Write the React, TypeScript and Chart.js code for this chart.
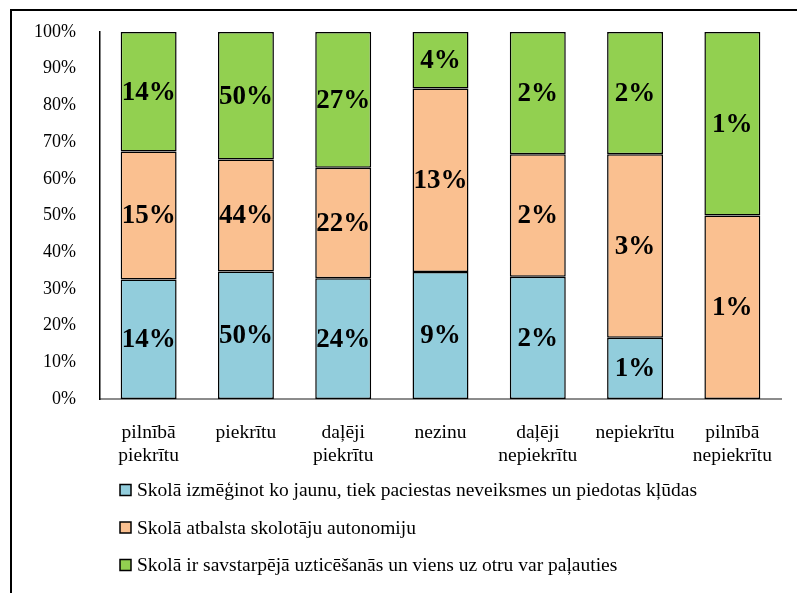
import React, { useEffect, useRef } from "react";
import { Chart, registerables } from "chart.js";

Chart.register(...registerables);

// Answer categories along the x axis (multi-line labels as arrays)
const categories: (string | string[])[] = [
  ["pilnībā", "piekrītu"],
  "piekrītu",
  ["daļēji", "piekrītu"],
  "nezinu",
  ["daļēji", "nepiekrītu"],
  "nepiekrītu",
  ["pilnībā", "nepiekrītu"],
];

// Share of respondents (%) per statement and answer
const innovationValues = [14, 50, 24, 9, 2, 1, 0];
const autonomyValues = [15, 44, 22, 13, 2, 3, 1];
const trustValues = [14, 50, 27, 4, 2, 2, 1];

const seriesNames = [
  "Skolā izmēģinot ko jaunu, tiek paciestas neveiksmes un piedotas kļūdas",
  "Skolā atbalsta skolotāju autonomiju",
  "Skolā ir savstarpējā uzticēšanās un viens uz otru var paļauties",
];
const seriesColors = ["#92CDDC", "#FAC090", "#92D050"];

const yTicks = [0, 10, 20, 30, 40, 50, 60, 70, 80, 90, 100];

const SERIF = "'Liberation Serif', 'Times New Roman', serif";

const allSeries = [innovationValues, autonomyValues, trustValues];
const totals = categories.map((_, i) =>
  allSeries.reduce((s, arr) => s + arr[i], 0)
);
// Normalise each column to 100 %
const shares = allSeries.map((arr) =>
  arr.map((v, i) => (totals[i] ? (v / totals[i]) * 100 : 0))
);

const valueLabelPlugin = {
  id: "valueLabels",
  afterDatasetsDraw(chart: any) {
    const ctx = chart.ctx;
    ctx.save();
    ctx.font = `bold 27px ${SERIF}`;
    ctx.fillStyle = "#000";
    ctx.textAlign = "center";
    ctx.textBaseline = "middle";
    chart.data.datasets.forEach((_ds: any, di: number) => {
      const meta = chart.getDatasetMeta(di);
      meta.data.forEach((el: any, i: number) => {
        const v = allSeries[di][i];
        if (!v) return;
        ctx.fillText(`${v}%`, el.x, (el.y + el.base) / 2 + 1);
      });
    });
    ctx.restore();
  },
};

const legendPlugin = {
  id: "stackedLegend",
  afterDraw(chart: any) {
    const ctx = chart.ctx;
    const base = chart.chartArea.bottom;
    ctx.save();
    ctx.font = `19.5px ${SERIF}`;
    ctx.textBaseline = "middle";
    ctx.textAlign = "left";
    chart.data.datasets.forEach((ds: any, i: number) => {
      const y = base + 91 + i * 37.5;
      ctx.fillStyle = ds.backgroundColor;
      ctx.fillRect(120, y - 5.5, 11, 11);
      ctx.lineWidth = 1.5;
      ctx.strokeStyle = "#000";
      ctx.strokeRect(120, y - 5.5, 11, 11);
      ctx.fillStyle = "#000";
      ctx.fillText(ds.label, 137, y + 1);
    });
    ctx.restore();
  },
};

export default function App() {
  const canvasRef = useRef<HTMLCanvasElement | null>(null);

  useEffect(() => {
    if (!canvasRef.current) return;
    const chart = new Chart(canvasRef.current, {
      type: "bar",
      data: {
        labels: categories,
        datasets: shares.map((data, i) => ({
          label: seriesNames[i],
          data,
          backgroundColor: seriesColors[i],
          borderColor: "#000",
          borderWidth: 1.5,
          borderSkipped: false,
          barPercentage: 0.575,
          categoryPercentage: 1,
        })),
      },
      options: {
        responsive: false,
        animation: false,
        layout: { padding: { top: 32, right: 16, bottom: 0, left: 0 } },
        plugins: {
          legend: { display: false },
          tooltip: { enabled: false },
        },
        scales: {
          x: {
            stacked: true,
            grid: { display: false, drawTicks: false },
            border: { display: true, color: "#8c8c8c", width: 2 },
            ticks: {
              color: "#000",
              font: { family: SERIF, size: 19.5, lineHeight: 1.2 },
              padding: 22,
              maxRotation: 0,
              autoSkip: false,
            },
            afterFit(scale: any) {
              scale.height = 194;
              scale.paddingLeft = 0;
              scale.paddingRight = 0;
            },
          },
          y: {
            stacked: true,
            min: 0,
            max: 100,
            afterBuildTicks(scale: any) {
              scale.ticks = yTicks.map((v) => ({ value: v }));
            },
            grid: { display: false, drawTicks: false },
            border: { display: true, color: "#000", width: 1.5 },
            ticks: {
              color: "#000",
              font: { family: SERIF, size: 18 },
              padding: 24,
              callback: (v: any) => `${v}%`,
            },
            afterFit(scale: any) {
              scale.width = 100;
              scale.paddingTop = 0;
              scale.paddingBottom = 0;
            },
          },
        },
      },
      plugins: [valueLabelPlugin, legendPlugin],
    });
    return () => chart.destroy();
  }, []);

  return (
    <div
      style={{
        position: "fixed",
        left: 0,
        top: 0,
        width: 797,
        height: 593,
        overflow: "hidden",
        background: "#fff",
      }}
    >
      <div
        style={{
          position: "absolute",
          left: 10,
          top: 9,
          width: 820,
          height: 620,
          border: "2px solid #000",
        }}
      />
      <canvas
        ref={canvasRef}
        width={797}
        height={593}
        style={{ position: "absolute", left: 0, top: 0 }}
      />
    </div>
  );
}
